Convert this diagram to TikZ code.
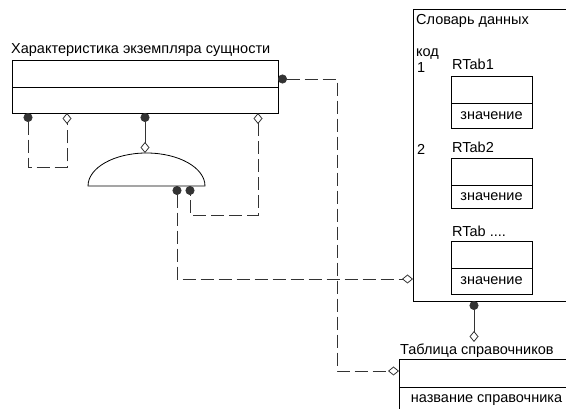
\documentclass[tikz,border=0pt]{standalone}
\usepackage{fontspec}
\setmainfont{Liberation Sans}
\usetikzlibrary{arrows.meta, positioning}

\begin{document}
\begin{tikzpicture}[x=1pt, y=-1pt,
    every node/.style={font=\fontsize{14.5}{17}\selectfont},
    cell/.style={draw, line width=0.8pt, inner sep=0pt, outer sep=0pt, anchor=north west},
    txt/.style={anchor=base west, inner sep=0pt},
    rel/.style={draw=black!80, line width=0.8pt, dash pattern=on 13pt off 5pt},
    link/.style={draw=black!80, line width=0.8pt},
    dotdia/.style={arrows={Circle[length=9pt]-Diamond[open, length=11pt, width=9pt]}},
    diadot/.style={arrows={Diamond[open, length=11pt, width=9pt]-Circle[length=9pt]}}]
  \useasboundingbox (0,0) rectangle (566,409);

  % entity
  \node[txt] (enttitle) at (11,54) {Характеристика экземпляра сущности};
  \node[cell, minimum width=266pt, minimum height=27pt] (enttop) at (12,60) {};
  \node[cell, minimum width=266pt, minimum height=26pt, below=0pt of enttop] (entbot) {};

  % subtype
  \draw[line width=0.8pt] (88,186) arc[start angle=180, end angle=0, x radius=58.5pt, y radius=33pt] -- cycle;
  \coordinate (subtop) at (145,153);
  \coordinate (subleft) at (177,186);
  \coordinate (subright) at (190,186);

  % dictionary
  \node[cell, minimum width=170pt, minimum height=292pt] (dict) at (413,9) {};
  \node[txt] (dicttitle) at (416,25) {Словарь данных};
  \node[txt] (code) at (416,57) {код};
  \node[txt] (code1) at (417,73) {1};
  \node[txt] (code2) at (417,155) {2};
  \node[txt] (rtab1) at (452,70) {RTab1};
  \node[cell, minimum width=81pt, minimum height=27pt] (r1top) at (451,76) {};
  \node[cell, minimum width=81pt, minimum height=25pt, below=0pt of r1top] (r1val) {значение};
  \node[txt] (rtab2) at (452,153) {RTab2};
  \node[cell, minimum width=81pt, minimum height=27pt] (r2top) at (451,158) {};
  \node[cell, minimum width=81pt, minimum height=23pt, below=0pt of r2top] (r2val) {значение};
  \node[txt] (rtab3) at (452,237) {RTab ....};
  \node[cell, minimum width=81pt, minimum height=27pt] (r3top) at (451,241) {};
  \node[cell, minimum width=81pt, minimum height=26pt, below=0pt of r3top] (r3val) {значение};

  % reference table
  \node[txt] (tabtitle) at (400,355) {Таблица справочников};
  \node[cell, minimum width=175pt, minimum height=28pt] (tabtop) at (399,359) {};
  \node[cell, minimum width=175pt, minimum height=27pt, below=0pt of tabtop] (tabname) {название справочника};

  % attachment points
  \coordinate (e1) at (28,113);
  \coordinate (e2) at (67,113);
  \coordinate (e3) at (145,113);
  \coordinate (e4) at (258,113);
  \coordinate (e5) at (278,79);
  \coordinate (dictin) at (413,279);
  \coordinate (dictout) at (474,301);
  \coordinate (tabin) at (399,371);
  \coordinate (tabtop in) at (474,342);

  % connectors
  \draw[rel, dotdia] (e1) -- (28,167) -- (67,167) -- (e2);
  \draw[link, dotdia] (e3) -- (subtop);
  \draw[rel, diadot] (e4) -- (258,215) -- (190,215) -- (subright);
  \draw[rel, dotdia] (subleft) -- (177,279) -- (dictin);
  \draw[rel, dotdia] (e5) -- (337,79) -- (337,371) -- (tabin);
  \draw[link, dotdia] (dictout) -- (tabtop in);
\end{tikzpicture}
\end{document}
